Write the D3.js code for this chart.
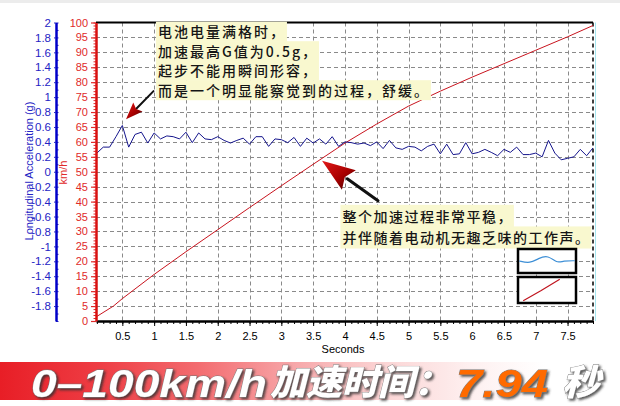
<!DOCTYPE html>
<html><head><meta charset="utf-8">
<script src="https://cdn.jsdelivr.net/npm/d3@7"></script>
<style>
html,body{margin:0;padding:0;background:#fff;overflow:hidden;}
svg{display:block;}
</style></head>
<body>
<svg id="chart" width="620" height="406"></svg>
<script>
// ---------------- data ----------------
const accelTimes = [0.1,0.2,0.3,0.4,0.5,0.6,0.7,0.8,0.9,1.0,
  1.1,1.2,1.3,1.4,1.5,1.6,1.7,1.8,1.9,2.0,
  2.1,2.2,2.3,2.4,2.5,2.6,2.7,2.8,2.9,3.0,
  3.1,3.2,3.3,3.4,3.5,3.6,3.7,3.8,3.9,4.0,
  4.1,4.2,4.3,4.4,4.5,4.6,4.7,4.8,4.9,5.0,
  5.1,5.2,5.3,5.4,5.5,5.6,5.7,5.8,5.9,6.0,
  6.1,6.2,6.3,6.4,6.5,6.6,6.7,6.8,6.9,7.0,
  7.1,7.2,7.3,7.4,7.5,7.6,7.7,7.8,7.9];
const accelG = [0.25,0.33,0.33,0.47,0.62,0.33,0.50,0.53,0.385,0.52,
  0.44,0.48,0.47,0.44,0.53,0.39,0.52,0.44,0.43,0.47,
  0.42,0.385,0.42,0.45,0.37,0.47,0.47,0.34,0.44,0.43,
  0.39,0.46,0.34,0.45,0.385,0.44,0.37,0.47,0.34,0.40,
  0.39,0.37,0.385,0.35,0.40,0.31,0.42,0.32,0.30,0.34,
  0.33,0.28,0.34,0.37,0.24,0.37,0.23,0.24,0.39,0.24,
  0.26,0.30,0.26,0.215,0.30,0.26,0.33,0.23,0.23,0.25,
  0.20,0.42,0.25,0.16,0.18,0.20,0.30,0.215,0.32];

const speedTimes = [0.09,0.36,0.5,1.0,1.5,2.0,2.5,3.0,3.5,4.0,4.5,5.0,5.5,6.0,6.5,7.0,7.5,7.9];
const speedKmh   = [1.4,5,7.5,15.6,23.2,30.6,38,45.3,52.5,59.6,66.0,72.0,77.0,81.7,86.2,90.7,95.2,99];

const xTicks = [0.5,1,1.5,2,2.5,3,3.5,4,4.5,5,5.5,6,6.5,7,7.5];
const xTickLabels = ["0.5","1","1.5","2","2.5","3","3.5","4","4.5","5","5.5","6","6.5","7","7.5"];
const kmhTicks = [0,5,10,15,20,25,30,35,40,45,50,55,60,65,70,75,80,85,90,95,100];
const gTicks = [-1.8,-1.6,-1.4,-1.2,-1,-0.8,-0.6,-0.4,-0.2,0,0.2,0.4,0.6,0.8,1,1.2,1.4,1.6,1.8,2];
const gTickLabels = ["-1.8","-1.6","-1.4","-1.2","-1","-0.8","-0.6","-0.4","-0.2","0","0.2","0.4","0.6","0.8","1","1.2","1.4","1.6","1.8","2"];

const xTitle = "Seconds";
const gTitle = "Longitudinal Acceleration (g)";
const kmhTitle = "km/h";
const note1 = ["电池电量满格时，","加速最高G值为0.5g，","起步不能用瞬间形容，","而是一个明显能察觉到的过程，舒缓。"];
const note2 = ["整个加速过程非常平稳，","并伴随着电动机无趣乏味的工作声。"];
const bannerParts = ["0–100km/h","加速时间：","7.94","秒"];

// legend icon samples (relative 0..1 inside icon boxes)
const iconWaveX = [0.02,0.21,0.35,0.52,0.67,0.78,0.98];
const iconWaveY = [0.50,0.60,0.39,0.25,0.60,0.49,0.49];
const iconRampX = [0.09,0.40,0.72];
const iconRampY = [0.91,0.52,0.09];

// ---------------- layout ----------------
const svg = d3.select("#chart");
const L = 96, R = 593, T = 22.5, B = 321;
const x = d3.scaleLinear().domain([0.086, 7.9]).range([L, R]);
const yK = d3.scaleLinear().domain([0, 100]).range([B, T]);
const yG = d3.scaleLinear().domain([-2, 2]).range([B, T]);

svg.append("rect").attr("x",0).attr("y",0).attr("width",620).attr("height",406).attr("fill","#fff");
svg.append("rect").attr("x",0).attr("y",0).attr("width",620).attr("height",3).attr("fill","#ececec");

const defs = svg.append("defs");
defs.append("clipPath").attr("id","plotclip").append("rect")
  .attr("x",L).attr("y",T).attr("width",R-L).attr("height",B-T);

// grid
const grid = svg.append("g").attr("stroke","#8a8a8a").attr("stroke-width",1).attr("stroke-dasharray","4,3");
grid.selectAll("line.v").data(xTicks).join("line").attr("class","v")
  .attr("x1",d=>Math.round(x(d))+0.5).attr("x2",d=>Math.round(x(d))+0.5).attr("y1",T).attr("y2",B);
grid.selectAll("line.h").data(kmhTicks.filter(d=>d>0 && d<100)).join("line").attr("class","h")
  .attr("x1",L).attr("x2",R).attr("y1",d=>Math.round(yK(d))+0.5).attr("y2",d=>Math.round(yK(d))+0.5);

// borders
svg.append("line").attr("x1",L).attr("x2",R).attr("y1",T).attr("y2",T).attr("stroke","#000").attr("stroke-width",2);
svg.append("line").attr("x1",R).attr("x2",R).attr("y1",T).attr("y2",B).attr("stroke","#000").attr("stroke-width",1.5).attr("stroke-dasharray","4,3");
svg.append("line").attr("x1",R+2.5).attr("x2",R+2.5).attr("y1",T).attr("y2",B).attr("stroke","#a6e6f0").attr("stroke-width",1);

// series
const plot = svg.append("g").attr("clip-path","url(#plotclip)");
const speedData = speedTimes.map((t,i)=>({t, v: speedKmh[i]}));
const accelData = accelTimes.map((t,i)=>({t, g: accelG[i]}));
plot.append("path").datum(speedData)
  .attr("d", d3.line().x(d=>x(d.t)).y(d=>yK(d.v)))
  .attr("fill","none").attr("stroke","#c8141e").attr("stroke-width",1);
plot.append("path").datum(accelData)
  .attr("d", d3.line().x(d=>x(d.t)).y(d=>yG(d.g)))
  .attr("fill","none").attr("stroke","#15158c").attr("stroke-width",1);

// x axis
const axFont = "'Liberation Sans', Arial, sans-serif";
const xMinor = svg.append("g").attr("transform",`translate(0,${B})`)
  .call(d3.axisBottom(x).tickValues(d3.range(1,80).map(i=>i/10)).tickSize(3).tickFormat("").tickSizeOuter(0));
xMinor.select(".domain").remove();
xMinor.selectAll(".tick line").attr("stroke","#000");
const xAx = svg.append("g").attr("transform",`translate(0,${B})`)
  .call(d3.axisBottom(x).tickValues(xTicks).tickSize(5).tickPadding(6).tickSizeOuter(0)
    .tickFormat((d,i)=>xTickLabels[i]));
xAx.select(".domain").attr("stroke","#000").attr("stroke-width",2.5);
xAx.selectAll(".tick line").attr("stroke","#000");
xAx.selectAll("text").attr("font-family",axFont).attr("font-size","11px").attr("fill","#000");
svg.append("text").attr("x",343).attr("y",353).attr("text-anchor","middle")
  .attr("font-family",axFont).attr("font-size","11px").attr("fill","#000").text(xTitle);

// red km/h axis
const redC = "#e02a2a";
const kMinor = svg.append("g").attr("transform",`translate(${L},0)`)
  .call(d3.axisLeft(yK).tickValues(d3.range(0,101,1)).tickSize(2.5).tickFormat("").tickSizeOuter(0));
kMinor.select(".domain").remove();
kMinor.selectAll(".tick line").attr("stroke",redC);
const kAx = svg.append("g").attr("transform",`translate(${L},0)`)
  .call(d3.axisLeft(yK).tickValues(kmhTicks).tickSize(5).tickPadding(3).tickSizeOuter(0));
kAx.select(".domain").attr("stroke","#d81010").attr("stroke-width",2.5);
kAx.selectAll(".tick line").attr("stroke",redC).attr("stroke-width",1.2);
kAx.selectAll("text").attr("font-family",axFont).attr("font-size","11px").attr("fill",redC);

// blue g axis
const blueC = "#2424c4";
const gAxX = 56;
const gMinor = svg.append("g").attr("transform",`translate(${gAxX},0)`)
  .call(d3.axisRight(yG).tickValues(d3.range(-20,21,1).map(i=>i/10)).tickSize(2.5).tickFormat("").tickSizeOuter(0));
gMinor.select(".domain").remove();
gMinor.selectAll(".tick line").attr("stroke",blueC);
const gAx = svg.append("g").attr("transform",`translate(${gAxX},0)`)
  .call(d3.axisLeft(yG).tickValues(gTicks).tickSize(2).tickPadding(3).tickSizeOuter(0)
    .tickFormat((d,i)=>gTickLabels[i]));
gAx.select(".domain").attr("stroke","#0000c8").attr("stroke-width",2.5);
gAx.selectAll(".tick line").attr("stroke",blueC);
gAx.selectAll("text").attr("font-family",axFont).attr("font-size","11.5px").attr("fill",blueC);

svg.append("text").attr("transform","translate(32.5,171) rotate(-90)").attr("text-anchor","middle")
  .attr("font-family",axFont).attr("font-size","11px").attr("fill",blueC).text(gTitle);
svg.append("text").attr("transform","translate(66.5,172.5) rotate(-90)").attr("text-anchor","middle")
  .attr("font-family",axFont).attr("font-size","11px").attr("fill",redC).text(kmhTitle);

// ---------------- annotations ----------------
const headGrad = defs.append("linearGradient").attr("id","headGrad").attr("x1","0").attr("y1","0").attr("x2","1").attr("y2","1");
headGrad.append("stop").attr("offset","0").attr("stop-color","#e21818");
headGrad.append("stop").attr("offset","0.55").attr("stop-color","#a80000");
headGrad.append("stop").attr("offset","1").attr("stop-color","#3a0000");

function arrow(tailT, tailK, tipT, tipK, headLen, headHalf, lw){
  const x0 = x(tailT), y0 = yK(tailK), x1 = x(tipT), y1 = yK(tipK);
  const dx = x1-x0, dy = y1-y0, len = Math.hypot(dx,dy), ux = dx/len, uy = dy/len;
  const bx = x1-ux*headLen, by = y1-uy*headLen;
  svg.append("line").attr("x1",x0).attr("y1",y0).attr("x2",bx+ux*2).attr("y2",by+uy*2)
    .attr("stroke","#111").attr("stroke-width",lw).attr("stroke-linecap","round");
  const pts = [[x1,y1],[bx-uy*headHalf,by+ux*headHalf],[bx+ux*headLen*0.15,by+uy*headLen*0.15],[bx+uy*headHalf,by-ux*headHalf]];
  svg.append("path").attr("d","M"+pts.map(p=>p.join(",")).join("L")+"Z").attr("fill","url(#headGrad)");
}
arrow(0.99, 77.0, 0.558, 67.6, 17, 6.5, 2);
arrow(4.52, 40.3, 3.64, 53.7, 33, 12, 3);

function note(lines, t, k, size, spacing, ls){
  const g = svg.append("g");
  const x0 = x(t), y0 = yK(k);
  lines.forEach((s,i)=>{
    const cy = y0 + i*spacing;
    const r = g.append("rect").attr("fill","#f9f8cf");
    const tx = g.append("text").attr("x",x0).attr("y",cy).attr("dominant-baseline","central")
      .attr("font-family","'Noto Sans CJK SC', sans-serif").attr("font-size",size+"px")
      .attr("letter-spacing",ls+"px").attr("font-weight","500")
      .attr("fill","#151515").text(s);
    const w = tx.node().getComputedTextLength();
    r.attr("x",x0-2).attr("y",cy-spacing/2).attr("width",w+3).attr("height",spacing+0.5);
  });
}
note(note1, 1.06, 97.0, 14, 19.5, 2);
note(note2, 3.96, 35.3, 14, 21.6, 1.5);

// mini legend icons
function icon(x0, y0, w, h, xs, ys, color, curve){
  svg.append("rect").attr("x",x0).attr("y",y0).attr("width",w).attr("height",h)
    .attr("fill","#fff").attr("stroke","#000").attr("stroke-width",2.5);
  const ix = d3.scaleLinear().range([x0, x0+w]), iy = d3.scaleLinear().range([y0, y0+h]);
  svg.append("path").datum(xs.map((v,i)=>[v, ys[i]]))
    .attr("d", d3.line().x(d=>ix(d[0])).y(d=>iy(d[1])).curve(curve))
    .attr("fill","none").attr("stroke",color).attr("stroke-width",1.2);
}
icon(R-75, B-72, 58, 24, iconWaveX, iconWaveY, "#3d8fd6", d3.curveBasis);
icon(R-75, B-44, 58, 26, iconRampX, iconRampY, "#c0141e", d3.curveLinear);

// ---------------- banner ----------------
const bg = defs.append("linearGradient").attr("id","bannerGrad").attr("x1","0").attr("x2","1").attr("y1","0").attr("y2","0");
[["0","#e81e26"],["0.16","#ee3d44"],["0.32","#f36c70"],["0.48","#f7a9ab"],["0.62","#fbd5d5"],["0.76","#fef0f0"],["0.88","#ffffff"]]
  .forEach(s=>bg.append("stop").attr("offset",s[0]).attr("stop-color",s[1]));
svg.append("rect").attr("x",0).attr("y",362).attr("width",620).attr("height",38).attr("fill","url(#bannerGrad)");

const shadow = defs.append("filter").attr("id","bshadow").attr("x","-10%").attr("y","-30%").attr("width","130%").attr("height","170%");
shadow.append("feDropShadow").attr("dx",1.8).attr("dy",1.8).attr("stdDeviation",1)
  .attr("flood-color","#333").attr("flood-opacity",0.8);

function bannerText(str, x0, base, size, len, fam, fill){
  svg.append("text").attr("x",x0).attr("y",base).text(str)
    .attr("font-family",fam).attr("font-size",size+"px").attr("font-weight","900").attr("font-style","italic")
    .attr("textLength",len).attr("lengthAdjust","spacingAndGlyphs")
    .attr("fill",fill).attr("stroke","#7a7a7a").attr("stroke-width",0.8).attr("paint-order","stroke")
    .attr("filter","url(#bshadow)");
}
const latin = "'Liberation Sans', Arial, sans-serif";
const cjk = "'Noto Sans CJK SC', sans-serif";
bannerText(bannerParts[0], 31, 397, 38, 236, latin, "#ffffff");
bannerText(bannerParts[1], 270, 394.5, 35.5, 180, cjk, "#ffffff");
bannerText(bannerParts[2], 456, 397, 38, 92, latin, "#ff6a00");
bannerText(bannerParts[3], 562, 394.5, 35.5, 38, cjk, "#ffffff");
</script>
</body></html>
